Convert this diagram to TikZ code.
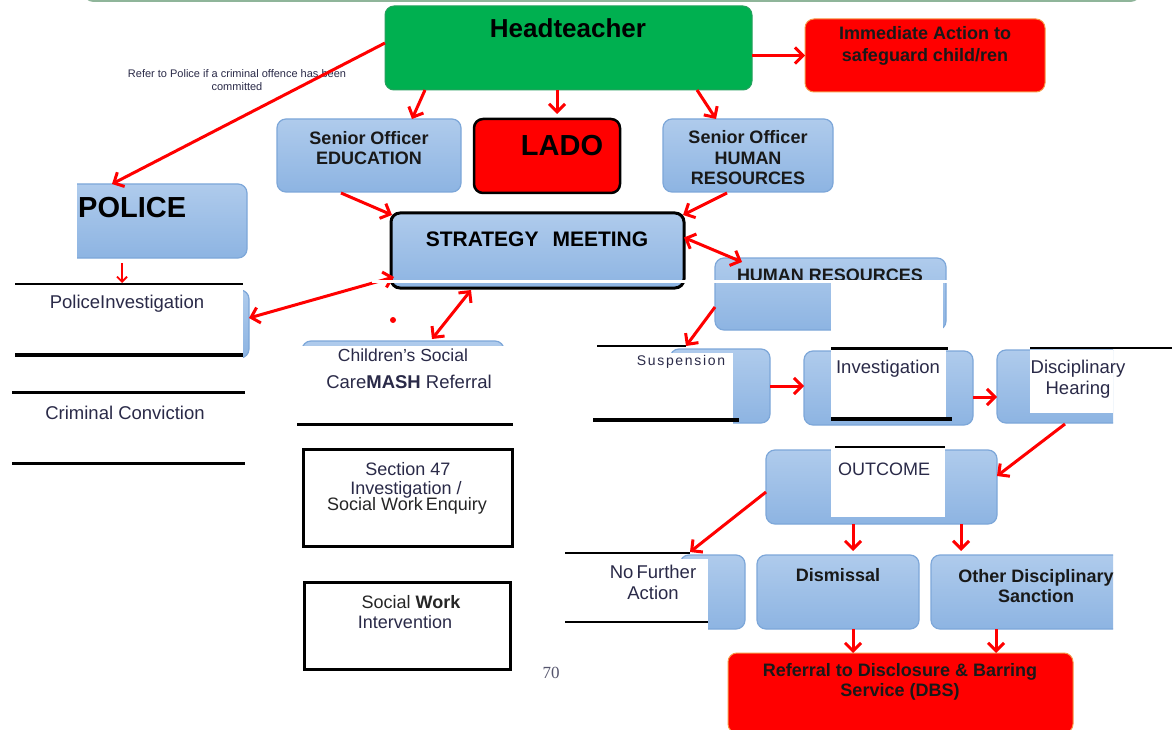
\documentclass[tikz,border=0pt]{standalone}
\usepackage{fontspec}
\setmainfont{Liberation Sans}[Ligatures=ResetAll]
\newfontfamily\serifnum{Liberation Serif}
\newfontfamily\spacedfont{Liberation Sans}[LetterSpace=12]
\usetikzlibrary{arrows.meta}
\definecolor{blueTop}{HTML}{AFCBEC}
\definecolor{blueBot}{HTML}{8DB4E2}
\definecolor{blueEdge}{HTML}{7DA7D9}
\definecolor{htgreen}{HTML}{00B050}
\definecolor{txt}{HTML}{2A2A48}
\definecolor{orangeEdge}{HTML}{F79646}
\definecolor{topline}{HTML}{8FB59A}
\tikzset{
  box/.style={rounded corners=9pt, anchor=north west, inner sep=0pt, outer sep=0pt},
  bluebox/.style={box, draw=blueEdge, line width=1.2pt, top color=blueTop, bottom color=blueBot},
  redbox/.style={box, fill=red, draw=orangeEdge, line width=1pt},
  ttl/.style={font=\bfseries\fontsize{18}{20.5}\selectfont, align=center, text=black!90, inner sep=0pt},
  plain/.style={font=\fontsize{18.5}{21}\selectfont, align=center, text=txt, inner sep=0pt},
  tip/.tip={Straight Barb[length=8pt,width=16pt]},
  arr/.style={draw=red, line width=3pt, -tip},
  darr/.style={draw=red, line width=3pt, tip-tip},
  bar/.style={line width=3pt, draw=black},
  plainbox/.style={draw=black, anchor=north west, inner sep=0pt}
}
\begin{document}
\begin{tikzpicture}[x=1pt,y=-1pt]
\clip (0,0) rectangle (1175,730);
\fill[white] (0,0) rectangle (1175,730);
% top remnant line
\draw[topline, line width=2pt] (86,-4) to[out=-80,in=180] (96,1) -- (1128,1) to[out=0,in=-100] (1138,-4);

% ---------- boxes ----------
\node[box, fill=htgreen, draw=htgreen!70!gray, line width=1pt, minimum width=367pt, minimum height=84pt] (ht) at (385,6) {};
\node[font=\bfseries\fontsize{26}{28}\selectfont, inner sep=0pt] (htt) at (568,28) {Headteacher};

\node[redbox, minimum width=240pt, minimum height=73pt] (imm) at (805,19) {};
\node[ttl, font=\bfseries\fontsize{18}{22}\selectfont] (immt) at (925,46) {Immediate Action to\\ safeguard child/ren};

\node[font=\fontsize{11}{13}\selectfont, align=center, text=txt, inner sep=0pt] (refer) at (237,80) {Refer to Police if a criminal offence has been\\committed};

\node[bluebox, minimum width=184pt, minimum height=73pt] (edu) at (277,119) {};
\node[ttl] (edut) at (369,148) {Senior Officer\\EDUCATION};

\node[box, fill=red, draw=black, line width=2.5pt, minimum width=146pt, minimum height=74pt] (lado) at (474,119) {};
\node[font=\bfseries\fontsize{29}{30}\selectfont, inner sep=0pt] (ladot) at (562,146) {LADO};

\node[bluebox, minimum width=170pt, minimum height=73pt] (sohr) at (663,119) {};
\node[ttl] (sohrt) at (748,158) {Senior Officer\\HUMAN\\RESOURCES};

\begin{scope}
\clip (77,170) rectangle (300,270);
\node[bluebox, minimum width=190pt, minimum height=74pt] (police) at (57,184) {};
\end{scope}
\node[font=\bfseries\fontsize{29}{30}\selectfont, inner sep=0pt, anchor=west] (policet) at (78,208) {POLICE};

\node[box, draw=black, line width=3pt, top color=blueTop, bottom color=blueBot, minimum width=293pt, minimum height=75pt] (strat) at (391,213) {};
\node[font=\bfseries\fontsize{21}{24}\selectfont, inner sep=0pt] (stratt) at (537,239) {STRATEGY\hspace{14pt}MEETING};

\node[bluebox, minimum width=231pt, minimum height=72pt] (hr) at (715,258) {};
\node[ttl] (hrt) at (830,275) {HUMAN RESOURCES};

% police investigation
\begin{scope}
\clip (243,280) rectangle (262,366);
\node[bluebox, minimum width=100pt, minimum height=68pt] (pinv) at (149,290) {};
\end{scope}
\draw[bar, line width=2.5pt] (15,284) -- (243,284);
\draw[bar, line width=3.5pt] (15,355) -- (243,355);
\node[plain] (pinvt) at (127,304) {PoliceInvestigation};
\coordinate (pinvtop) at (122,283);

% criminal conviction
\draw[bar] (12,392) -- (245,392);
\draw[bar] (12,463) -- (245,463);
\node[plain] (crimt) at (125,413) {Criminal Conviction};

% children's social care
\begin{scope}
\clip (290,330) rectangle (520,345.5);
\node[bluebox, minimum width=202pt, minimum height=70pt] (csc) at (302,341) {};
\end{scope}
\node[plain, font=\fontsize{17.5}{21}\selectfont] (csct1) at (403,355) {Children's Social};
\node[plain] (csct2) at (409,382) {Care\textbf{MASH} Referral};
\draw[bar] (297,424) -- (513,424);

% section 47
\node[plainbox, line width=2.5pt, minimum width=209pt, minimum height=97pt] (s47) at (302,448) {};
\node[plain, font=\fontsize{18}{21}\selectfont] (s47a) at (408,469) {Section 47};
\node[plain, font=\fontsize{18}{21}\selectfont] (s47b) at (406,490) {Investigation /};
\node[plain, font=\fontsize{18}{21}\selectfont, text=black!85] (s47c) at (407,506) {Social Work\,Enquiry};

% social work intervention
\node[plainbox, line width=3pt, minimum width=206pt, minimum height=87pt] (swi) at (303,581) {};
\node[plain, font=\fontsize{18}{21}\selectfont, text=black!85] (swi1) at (411,602) {Social \textbf{Work}};
\node[plain, font=\fontsize{18}{21}\selectfont] (swi2) at (405,622) {Intervention};

\node[font=\serifnum\fontsize{17}{18}\selectfont, text=txt!80, inner sep=0pt] (page) at (551,673) {70};

% suspension
\node[bluebox, minimum width=100pt, minimum height=74pt] (susp) at (670,349) {};
\fill[white] (590,353) rectangle (733,425);
\draw[bar, line width=1.5pt] (597,346) -- (686,346);
\draw[bar, line width=3.5pt] (593,420) -- (739,420);
\node[font=\spacedfont\fontsize{14}{16}\selectfont, text=txt, inner sep=0pt] (suspt) at (681,362) {Suspension};

% investigation
\node[bluebox, minimum width=169pt, minimum height=74pt] (inv) at (804,351) {};
\fill[white] (831,349) rectangle (946,420);
\draw[bar] (831,348) -- (948,348);
\draw[bar, line width=3.5pt] (831,419) -- (952,419);
\node[plain] (invt) at (888,369) {Investigation};

% disciplinary hearing
\begin{scope}
\clip (990,340) rectangle (1113,430);
\node[bluebox, minimum width=150pt, minimum height=73pt] (disc) at (997,350) {};
\end{scope}
\fill[white] (1030,349.5) rectangle (1113,413);
\draw[bar, line width=2pt] (1030,348) -- (1172,348);
\node[plain] (disct) at (1078,379) {Disciplinary\\Hearing};

% outcome
\node[bluebox, minimum width=231pt, minimum height=74pt] (out) at (766,450) {};
\fill[white] (831,449) rectangle (945,517);
\draw[bar, line width=2.5pt] (835,447) -- (945,447);
\node[plain, font=\fontsize{18}{21}\selectfont] (outt) at (884,469) {OUTCOME};

% no further action
\node[bluebox, minimum width=65pt, minimum height=74pt] (nfa) at (680,555) {};
\fill[white] (600,559) rectangle (708,631);
\draw[bar, line width=2.5pt] (565,553) -- (690,553);
\draw[bar, line width=2.5pt] (565,622) -- (708,622);
\node[plain] (nfat) at (653,582) {No\,Further\\Action};
\coordinate (nfatop) at (690,552);

% dismissal / other
\node[bluebox, minimum width=162pt, minimum height=74pt] (dis) at (757,555) {};
\node[ttl] (dist) at (838,575) {Dismissal};
\begin{scope}
\clip (920,540) rectangle (1113,640);
\node[bluebox, minimum width=200pt, minimum height=74pt] (oth) at (931,555) {};
\node[ttl] (otht) at (1036,586) {Other Disciplinary\\Sanction};
\end{scope}

% DBS
\node[redbox, minimum width=345pt, minimum height=80pt] (dbs) at (728,653) {};
\node[ttl] (dbst) at (900,682) {Referral to Disclosure \& Barring\\Service (DBS)};

% ---------- connectors ----------
\draw[arr] (ht.east |- imm.west) -- (imm.west);
\draw[arr] ([yshift=5pt]ht.west) -- ([xshift=55pt]police.north west);
\draw[arr] ([xshift=40pt]ht.south west) -- ([xshift=135pt]edu.north west);
\draw[arr] ([xshift=172pt]ht.south west) -- ([xshift=83pt,yshift=5pt]lado.north west);
\draw[arr] ([xshift=312pt]ht.south west) -- ([xshift=53pt]sohr.north west);
\draw[arr] ([xshift=64pt,yshift=-1pt]edu.south west) -- ([xshift=1pt,yshift=-2pt]strat.north west);
\draw[arr] ([xshift=64pt,yshift=-1pt]sohr.south west) -- ([xshift=-1pt,yshift=-2pt]strat.north east);
\draw[darr] ([yshift=13pt]strat.east) -- ([xshift=27pt,yshift=-4pt]hr.north west);
\draw[arr] ([yshift=-49pt]hr.north west) -- ([xshift=16pt,yshift=3pt]susp.north west);
\draw[darr] ([yshift=6pt]pinv.east) -- ([xshift=3pt,yshift=11pt]strat.south west);
\draw[darr] ([xshift=80pt,yshift=-2pt]strat.south west) -- ([xshift=130pt,yshift=2pt]csc.north west);
\draw[draw=red, line width=1.8pt, -{Straight Barb[length=5pt,width=10pt]}] ([xshift=65pt,yshift=-5pt]police.south west) -- (pinvtop);
\fill[red] (393,320) circle (3pt);
\draw[arr] (susp.east) -- (inv.west |- susp.east);
\draw[arr] ([yshift=-9pt]inv.east) -- ([yshift=-9pt]inv.east -| disc.west);
\draw[arr] ([xshift=68pt,yshift=-1pt]disc.south west) -- ([yshift=-26pt]out.north east);
\draw[arr] ([yshift=-5pt]out.west) -- (nfatop);
\draw[arr] ([xshift=87pt]out.south west) -- ([xshift=96pt,yshift=4pt]dis.north west);
\draw[arr] ([xshift=195pt]out.south west) -- ([xshift=30pt,yshift=4pt]oth.north west);
\draw[arr] ([xshift=96pt]dis.south west) -- ([xshift=125pt]dbs.north west);
\draw[arr] ([xshift=65pt]oth.south west) -- ([xshift=268pt]dbs.north west);

% white glitch band and HR cover
\fill[white] (372,279.5) rectangle (990,283);
\fill[white] (831,283) rectangle (943,331);
\end{tikzpicture}
\end{document}
